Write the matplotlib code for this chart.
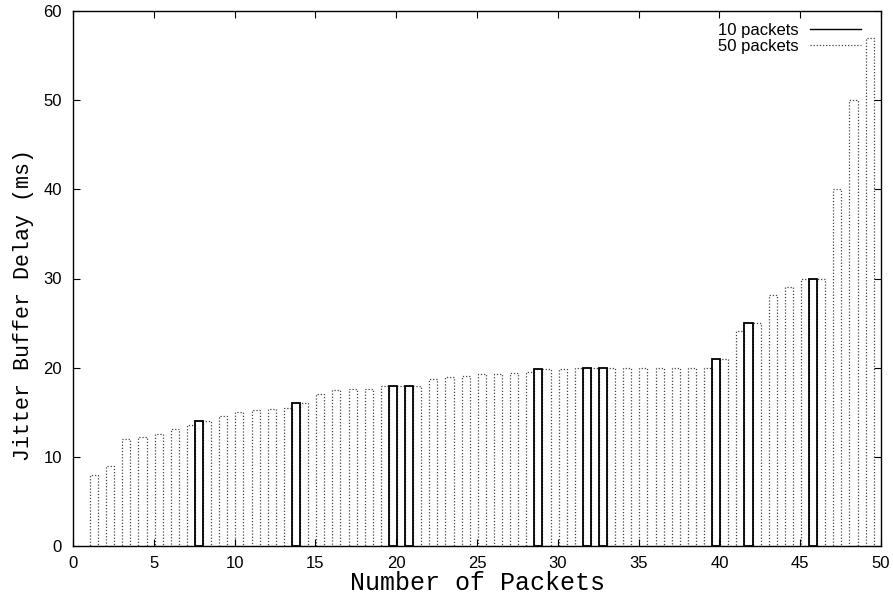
import numpy as np
import matplotlib
matplotlib.use("Agg")
import matplotlib.pyplot as plt
from matplotlib.lines import Line2D

# 50 packets: one box per packet index (sorted delays)
idx_50 = np.arange(1, 50)
delay_50 = [8.0, 9.0, 12.0, 12.2, 12.6, 13.1, 13.6, 14.0, 14.6, 15.0,
            15.25, 15.36, 15.5, 16.0, 17.05, 17.46, 17.57, 17.65, 17.94, 18.0,
            18.0, 18.73, 18.95, 19.06, 19.29, 19.3, 19.36, 19.47, 19.8, 19.9,
            19.95, 20.0, 20.0, 20.0, 20.0, 20.0, 20.0, 20.0, 20.0, 21.0,
            24.1, 25.0, 28.1, 29.1, 30.0, 30.0, 40.0, 50.0, 57.0]

# 10 packets
idx_10 = [8, 14, 20, 21, 29, 32, 33, 40, 42, 46]
delay_10 = [14.0, 16.0, 18.0, 18.0, 19.8, 20.0, 20.0, 21.0, 25.0, 30.0]

fig = plt.figure(figsize=(8.93, 6.01), dpi=100)
ax = fig.add_axes([73 / 893, 55 / 601, 808 / 893, 535 / 601])

dots = (0, (1, 1.5))
ax.bar(idx_50 + 0.3, delay_50, width=0.5, fill=False, edgecolor='#444444',
       linestyle=dots, linewidth=0.9)
ax.bar(np.array(idx_10) - 0.2, delay_10, width=0.5, fill=False, edgecolor='black',
       linewidth=1.3)

ax.set_xlim(0, 50)
ax.set_ylim(0, 60)
ax.set_xticks(np.arange(0, 51, 5))
ax.set_yticks(np.arange(0, 61, 10))
ax.tick_params(direction='in', top=True, right=True, length=5, width=0.8,
               labelsize=12)
ax.tick_params(axis='x', pad=7)
ax.tick_params(axis='y', pad=8)
for lab in ax.get_xticklabels() + ax.get_yticklabels():
    lab.set_family('Liberation Sans')
for s in ax.spines.values():
    s.set_linewidth(1.0)

ax.set_xlabel('Number of Packets', family='Liberation Mono', fontsize=18, labelpad=0)
ax.set_ylabel('Jitter Buffer Delay (ms)', family='Liberation Mono', fontsize=15.6)
ax.yaxis.set_label_coords(-0.048, 0.45)

handles = [Line2D([], [], color='black', linewidth=1.0),
           Line2D([], [], color='#444444', linestyle=dots, linewidth=0.9)]
ax.legend(handles, ['10 packets', '50 packets'], loc='upper right',
          bbox_to_anchor=(0.975, 0.978), frameon=False, markerfirst=False,
          prop={'family': 'Liberation Sans', 'size': 12}, handlelength=3.05,
          handletextpad=0.66, labelspacing=0.05, borderaxespad=0, borderpad=0)

fig.savefig('out.png', dpi=100)
